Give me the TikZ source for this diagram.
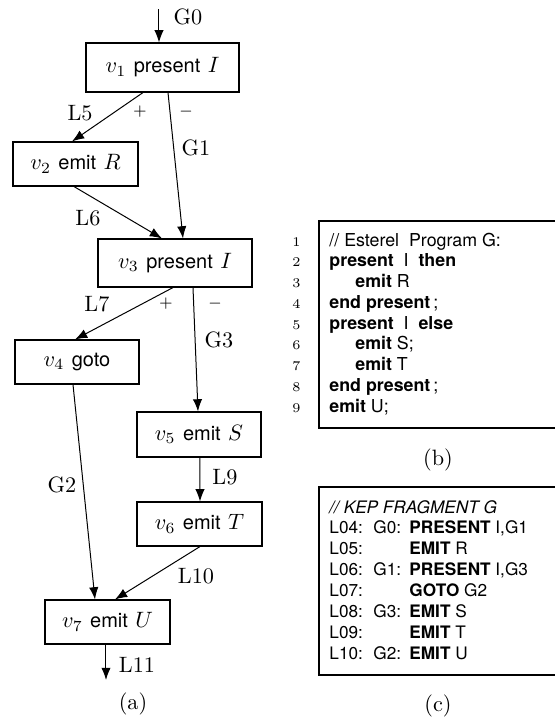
\documentclass[tikz,border=0pt]{standalone}
\usepackage{fontspec}
\setsansfont{TeX Gyre Heros}[Scale=0.9]
\usetikzlibrary{calc,arrows.meta}
\begin{document}
\begin{tikzpicture}[x=0.45pt,y=-0.45pt,
  arr/.style={-{Latex[length=5.5pt,width=4.2pt]}, line width=0.45pt},
  blk/.style={draw, line width=0.5pt, inner sep=0pt, font=\normalsize},
  lbl/.style={inner sep=0pt, font=\normalsize},
  sgn/.style={inner sep=0pt, font=\scriptsize},
  code/.style={inner sep=0pt, anchor=base west, font=\fontsize{8.9}{10}\selectfont\sffamily},
  kep/.style={inner sep=0pt, anchor=base west, font=\fontsize{8.6}{10}\selectfont\sffamily},
  lnum/.style={inner sep=0pt, anchor=base east, font=\fontsize{6}{7}\selectfont},
  frame/.style={line width=0.6pt}]
\useasboundingbox (0,0) rectangle (555,721);
% nodes of (a)
\node[blk, minimum width=68.85pt, minimum height=22.05pt] (v1) at (162.5,67.5) {$v_1$ \textsf{present} $I$};
\node[blk, minimum width=56.25pt, minimum height=19.8pt] (v2) at (75.5,164) {$v_2$ \textsf{emit} $R$};
\node[blk, minimum width=69.3pt, minimum height=21.6pt] (v3) at (175,263) {$v_3$ \textsf{present} $I$};
\node[blk, minimum width=55.8pt, minimum height=19.8pt] (v4) at (77,362) {$v_4$ \textsf{goto}};
\node[blk, minimum width=55.8pt, minimum height=20.25pt] (v5) at (199,434.5) {$v_5$ \textsf{emit} $S$};
\node[blk, minimum width=56.25pt, minimum height=19.8pt] (v6) at (199.5,524) {$v_6$ \textsf{emit} $T$};
\node[blk, minimum width=56.25pt, minimum height=19.8pt] (v7) at (107.5,622) {$v_7$ \textsf{emit} $U$};
\coordinate (in) at (159,9);
\coordinate (out) at (106,680);
% connectors
\draw[arr] (in) -- ($(v1.north)+(-3.5,0)$);
\draw[arr] ($(v1.south)+(-19.5,0)$) -- ($(v2.north)+(-3.5,0)$);
\draw[arr] ($(v1.south)+(5.5,0)$) -- ($(v3.north)+(8,0)$);
\draw[arr] ($(v2.south)+(-1.5,0)$) -- ($(v3.north)+(-13,0)$);
\draw[arr] ($(v3.south)+(-2,0)$) -- ($(v4.north)+(-2,0)$);
\draw[arr] ($(v3.south)+(18,0)$) -- ($(v5.north)+(-1,0)$);
\draw[arr] ($(v4.south)+(-4,0)$) -- ($(v7.north)+(-12.5,0)$);
\draw[arr] ($(v5.south)+(1,0)$) -- ($(v6.north)+(0.5,0)$);
\draw[arr] ($(v6.south)+(0.5,0)$) -- ($(v7.north)+(7.5,0)$);
\draw[arr] ($(v7.south)+(-1.5,0)$) -- (out);
% edge labels
\node[lbl] (lg0) at (188,17) {G0};
\node[lbl] (ll5) at (80,113) {L5};
\node[sgn] (p1) at (140,112) {$+$};
\node[sgn] (m1) at (186,112) {$-$};
\node[lbl] (lg1) at (196,148) {G1};
\node[lbl] (ll6) at (88,218) {L6};
\node[lbl] (ll7) at (97,304) {L7};
\node[sgn] (p3) at (166,304) {$+$};
\node[sgn] (m3) at (215,304) {$-$};
\node[lbl] (lg3) at (219,340) {G3};
\node[lbl] (lg2) at (62,485) {G2};
\node[lbl] (ll9) at (225,477) {L9};
\node[lbl] (ll10) at (196,576) {L10};
\node[lbl] (ll11) at (137,665) {L11};
\node[lbl] (capa) at (133,704) {(a)};
% (b) listing
\draw[frame] (555,221) -- (319,221) -- (319,428) -- (555,428);
\foreach \i in {1,...,9} {
  \node[lnum] (n\i) at (301,{246+20.75*(\i-1)}) {\i};
}
\node[code] (b1) at (329,246) {//\ Esterel\ \ Program G:};
\node[code] (b2) at (329,266.75) {\textbf{present}\ \ I\ \ \textbf{then}};
\node[code] (b3) at (355,287.5) {\textbf{emit} R};
\node[code] (b4) at (329,308.25) {\textbf{end present}\,;};
\node[code] (b5) at (329,329) {\textbf{present}\ \ I\ \ \textbf{else}};
\node[code] (b6) at (355,349.75) {\textbf{emit} S;};
\node[code] (b7) at (355,370.5) {\textbf{emit} T};
\node[code] (b8) at (329,391.25) {\textbf{end present}\,;};
\node[code] (b9) at (329,412) {\textbf{emit} U;};
\node[lbl] (capb) at (438,460) {(b)};
% (c) listing
\draw[frame] (555,487) -- (319,487) -- (319,675) -- (555,675);
\node[kep] (c1) at (329,513) {\itshape // KEP FRAGMENT G};
\node[kep] (c2a) at (329,533.86) {L04:};
\node[kep] (c2b) at (373,533.86) {G0:};
\node[kep] (c2c) at (409,533.86) {\textbf{PRESENT} I,G1};
\node[kep] (c3a) at (329,554.71) {L05:};
\node[kep] (c3c) at (409,554.71) {\textbf{EMIT} R};
\node[kep] (c4a) at (329,575.57) {L06:};
\node[kep] (c4b) at (373,575.57) {G1:};
\node[kep] (c4c) at (409,575.57) {\textbf{PRESENT} I,G3};
\node[kep] (c5a) at (329,596.43) {L07:};
\node[kep] (c5c) at (409,596.43) {\textbf{GOTO} G2};
\node[kep] (c6a) at (329,617.29) {L08:};
\node[kep] (c6b) at (373,617.29) {G3:};
\node[kep] (c6c) at (409,617.29) {\textbf{EMIT} S};
\node[kep] (c7a) at (329,638.14) {L09:};
\node[kep] (c7c) at (409,638.14) {\textbf{EMIT} T};
\node[kep] (c8a) at (329,659) {L10:};
\node[kep] (c8b) at (373,659) {G2:};
\node[kep] (c8c) at (409,659) {\textbf{EMIT} U};
\node[lbl] (capc) at (438,706) {(c)};
\end{tikzpicture}
\end{document}
